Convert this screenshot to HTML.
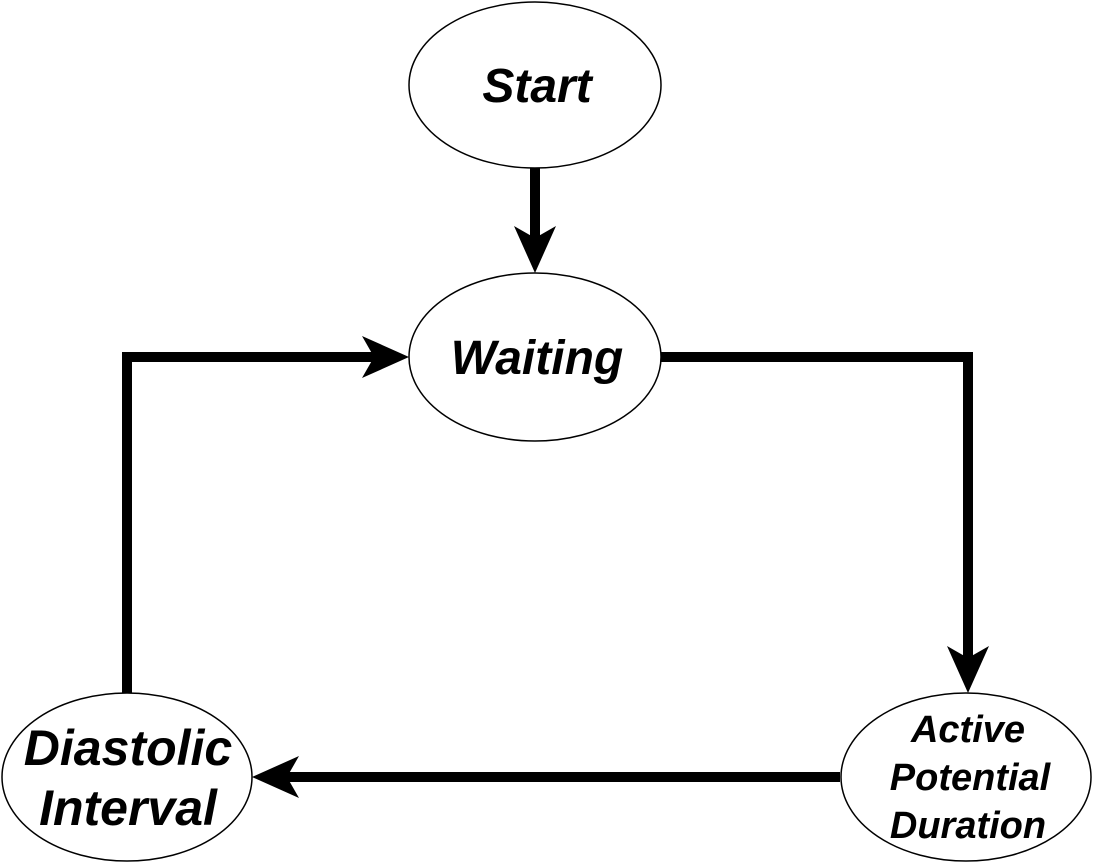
<!DOCTYPE html>
<html><head><meta charset="utf-8"><style>
html,body{margin:0;padding:0;background:#fff;}
svg{display:block}
text{font-family:"Liberation Sans",Arial,sans-serif;font-weight:bold;font-style:italic;fill:#000;text-anchor:middle}
</style></head><body>
<svg width="1095" height="864" viewBox="0 0 1095 864" xmlns="http://www.w3.org/2000/svg">
<g fill="none" stroke="#000" stroke-width="10" stroke-linejoin="miter">
<line x1="535" y1="168" x2="535" y2="250"/>
<polyline points="661,357 968,357 968,670"/>
<line x1="840" y1="777" x2="275" y2="777"/>
<polyline points="127,693 127,357 385,357"/>
</g>
<g fill="#000">
<polygon points="535,273 514,226 535,238 556,226"/>
<polygon points="968,693 947,646 968,658 989,646"/>
<polygon points="252,777 299,756 287,777 299,798"/>
<polygon points="409,357 362,336 374,357 362,378"/>
</g>
<g fill="#fff" stroke="#000" stroke-width="1.5">
<ellipse cx="535" cy="85" rx="126" ry="83"/>
<ellipse cx="535" cy="357" rx="126" ry="84"/>
<ellipse cx="127" cy="777" rx="125" ry="84"/>
<ellipse cx="966" cy="777" rx="125" ry="84"/>
</g>
<text x="537" y="102" font-size="48">Start</text>
<text x="537" y="374" font-size="48">Waiting</text>
<text x="128" y="765" font-size="50">Diastolic</text>
<text x="128" y="825" font-size="50">Interval</text>
<text x="968" y="742" font-size="38">Active</text>
<text x="970" y="790" font-size="38">Potential</text>
<text x="968" y="838" font-size="38">Duration</text>
</svg>
</body></html>
